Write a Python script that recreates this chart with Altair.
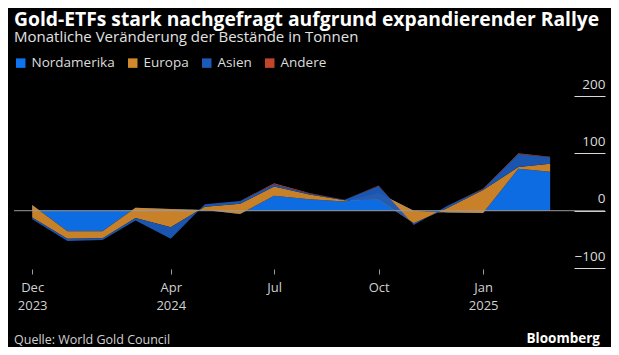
import altair as alt
import pandas as pd

# ---- data (tonnes, monthly change in holdings) ----
months = ["2023-12-01", "2024-01-01", "2024-02-01", "2024-03-01", "2024-04-01",
          "2024-05-01", "2024-06-01", "2024-07-01", "2024-08-01", "2024-09-01",
          "2024-10-01", "2024-11-01", "2024-12-01", "2025-01-01", "2025-02-01",
          "2025-03-01"]
series = ["Nordamerika", "Europa", "Asien", "Andere"]
colors = ["#0f72ee", "#d3882b", "#1b5ab8", "#c2452b"]

nordamerika = [10, -36, -36, 5, 3, 1, -6, 26, 20, 16, 31, 0, -3, -4, 73, 68]
europa = [-22, -13, -12, -18, -32, 6, 18, 16, 8, 2, -12, -22, 8, 40, 3, 14]
asien = [-3, -4, -3, -4, -20, 4, 5, 4, 2, 1, 24, -3, 4, 2, 23, 11]
andere = [0, 0, 0, 0, 0, 0, 0, 2, 1, 0, 1, 0, 0, 0.5, 1, 1]

y_ticks = [-100, 0, 100, 200]
x_tick_dates = ["2023-12-01", "2024-04-01", "2024-07-01", "2024-10-01", "2025-01-01"]
x_domain_dates = ["2023-11-15", "2025-03-22"]

title = "Gold-ETFs stark nachgefragt aufgrund expandierender Rallye"
subtitle = "Monatliche Veränderung der Bestände in Tonnen"
source = "Quelle: World Gold Council"
brand = "Bloomberg"

FONT = "Open Sans"


def ms(d):
    return int(pd.Timestamp(d, tz="UTC").value // 10**6)


# cumulative (non-diverging) stacking in series order
rows = []
for i, m in enumerate(months):
    base = 0.0
    for s, vals in zip(series, [nordamerika, europa, asien, andere]):
        v = vals[i]
        rows.append({"date": m, "series": s, "value": v, "y0": base, "y1": base + v})
        base += v
df = pd.DataFrame(rows)

W, H = 560, 172

xscale = alt.Scale(type="utc", domain=[ms(d) for d in x_domain_dates])
yscale = alt.Scale(domain=[-100, 200], nice=False)
cscale = alt.Scale(domain=series, range=colors)

x_axis = alt.Axis(
    values=[ms(d) for d in x_tick_dates],
    labelExpr="[utcFormat(datum.value, '%b'), (utcFormat(datum.value, '%m') == '07' || utcFormat(datum.value, '%m') == '10') ? '' : utcFormat(datum.value, '%Y')]",
    tickSize=5, tickColor="#9a9a9a", tickWidth=1, domain=False, grid=False,
    offset=1, labelPadding=7, labelFontSize=13, labelLineHeight=18,
    labelColor="#d0d0d0", labelFont=FONT, title=None, labelFlush=False,
    labelOverlap=False,
)
y_axis = alt.Axis(
    orient="right", values=y_ticks, tickSize=31, tickColor="#d8d8d8", tickWidth=1,
    domain=False, grid=False, labelAlign="right", labelBaseline="alphabetic",
    labelPadding=0, labelOffset=-8, labelFontSize=13.5, labelColor="#dcdcdc",
    labelFont=FONT, title=None, labelOverlap=False,
)
legend = alt.Legend(
    orient="none", legendX=0, legendY=-40, direction="horizontal", title=None,
    symbolType="square", symbolSize=90, symbolStrokeWidth=0, symbolOpacity=1,
    labelFontSize=13.5, labelColor="#dddddd", labelFont=FONT, labelOffset=4,
    columnPadding=11,
)

layers = []
for k, s in enumerate(series):
    enc = dict(
        x=alt.X("date:T", scale=xscale, axis=x_axis),
        y=alt.Y("y1:Q", scale=yscale, axis=y_axis),
        y2="y0:Q",
        color=alt.Color("series:N", scale=cscale, legend=legend),
    )
    layers.append(
        alt.Chart(df)
        .transform_filter(alt.datum.series == s)
        .mark_area(interpolate="linear", opacity=0.95)
        .encode(**enc)
    )

zero = pd.DataFrame({"v": [0]})
zero_rule = alt.Chart(zero).mark_rule(color="#9a9a9a", strokeWidth=1.2, opacity=0.8).encode(
    y=alt.Y("v:Q", scale=yscale, axis=y_axis), x=alt.value(0), x2=alt.value(W + 31)
)

src = alt.Chart(pd.DataFrame({"t": [source]})).mark_text(
    align="left", baseline="alphabetic", font=FONT, fontSize=12.5, color="#d0d0d0"
).encode(text="t:N", x=alt.value(0), y=alt.value(248))

brd = alt.Chart(pd.DataFrame({"t": [brand]})).mark_text(
    align="right", baseline="alphabetic", font=FONT, fontSize=13.5,
    fontWeight="bold", color="#ffffff"
).encode(text="t:N", x=alt.value(586), y=alt.value(247))

chart = (
    alt.layer(*layers, zero_rule, src, brd)
    .properties(
        width=W, height=H,
        padding={"left": 6, "top": 88, "right": 37, "bottom": 79},
        autosize=alt.AutoSizeParams(type="none"),
        background="#000000",
        title=alt.TitleParams(
            text=title, subtitle=subtitle, anchor="start", frame="group",
            font=FONT, fontSize=19.3, fontWeight="bold", color="#ffffff",
            lineHeight=18,
            subtitleFont=FONT, subtitleFontSize=15, subtitleColor="#e2e2e2",
            subtitlePadding=0, offset=11,
        ),
    )
    .resolve_scale(color="shared")
    .configure_view(stroke=None)
)

chart.save("out.html", embed_options={"renderer": "svg", "actions": False})
